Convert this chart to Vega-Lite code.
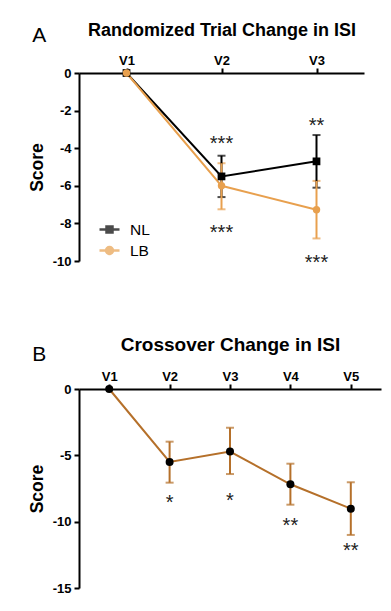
{
  "$schema": "https://vega.github.io/schema/vega-lite/v6.json",
  "background": "white",
  "padding": {"left": 28, "top": 21, "right": 5, "bottom": 5},
  "spacing": 61,
  "resolve": {"scale": {"color": "independent", "shape": "independent"}, "legend": {"color": "independent", "shape": "independent"}},
  "config": {
    "view": {"stroke": null},
    "font": "Liberation Sans",
    "axis": {"grid": false, "domainColor": "#000000", "domainWidth": 2, "tickColor": "#000000", "tickWidth": 2, "tickSize": 5, "labelFont": "Liberation Sans", "labelFontWeight": "bold", "labelFontSize": 13, "labelColor": "#000000", "titleFont": "Liberation Sans", "titleFontWeight": "bold", "titleFontSize": 17.5, "titleColor": "#000000"},
    "title": {"font": "Liberation Sans", "fontWeight": "normal", "fontSize": 21, "color": "#000000", "anchor": "start", "frame": "bounds", "dx": 4}
  },
  "datasets": {
    "a": [
      {"visit": "V1", "group": "NL", "score": 0, "lo": null, "hi": null},
      {"visit": "V2", "group": "NL", "score": -5.5, "lo": -6.6, "hi": -4.4},
      {"visit": "V3", "group": "NL", "score": -4.7, "lo": -6.1, "hi": -3.3},
      {"visit": "V1", "group": "LB", "score": 0, "lo": null, "hi": null},
      {"visit": "V2", "group": "LB", "score": -6.0, "lo": -7.25, "hi": -4.8},
      {"visit": "V3", "group": "LB", "score": -7.27, "lo": -8.8, "hi": -5.74}
    ],
    "starsA": [
      {"visit": "V2", "label": "***", "pos": -3.53},
      {"visit": "V2", "label": "***", "pos": -8.25},
      {"visit": "V3", "label": "**", "pos": -2.55},
      {"visit": "V3", "label": "***", "pos": -9.85}
    ],
    "b": [
      {"visit": "V1", "score": 0, "lo": null, "hi": null},
      {"visit": "V2", "score": -5.5, "lo": -7.06, "hi": -3.97},
      {"visit": "V3", "score": -4.72, "lo": -6.41, "hi": -2.92},
      {"visit": "V4", "score": -7.18, "lo": -8.72, "hi": -5.63},
      {"visit": "V5", "score": -9.02, "lo": -11.0, "hi": -7.03}
    ],
    "starsB": [
      {"visit": "V2", "label": "*", "pos": -8.19},
      {"visit": "V3", "label": "*", "pos": -8.06},
      {"visit": "V4", "label": "**", "pos": -9.97},
      {"visit": "V5", "label": "**", "pos": -11.8}
    ]
  },
  "vconcat": [
    {
      "width": 285,
      "height": 188,
      "title": {"text": "A", "offset": -25},
      "data": {"name": "a"},
      "encoding": {
        "x": {"field": "visit", "type": "ordinal", "scale": {"type": "point", "padding": 0.5}, "axis": {"orient": "top", "title": "Randomized Trial Change in ISI", "titleFontSize": 18, "labelAngle": 0, "titlePadding": 15, "labelPadding": 1}},
        "y": {"field": "score", "type": "quantitative", "title": "Score", "scale": {"domain": [-10, 0], "nice": false, "zero": false}, "axis": {"values": [0, -2, -4, -6, -8, -10], "labelExpr": "toString(datum.value)", "titlePadding": 6, "labelPadding": 3}}
      },
      "layer": [
        {
          "mark": {"type": "line", "strokeWidth": 2},
          "encoding": {"color": {"field": "group", "type": "nominal", "scale": {"domain": ["NL", "LB"], "range": ["#000000", "#E8A04E"]}}}
        },
        {
          "transform": [{"filter": "isValid(datum.lo)"}],
          "mark": {"type": "errorbar", "ticks": {"size": 8, "thickness": 2}, "thickness": 2},
          "encoding": {
            "y": {"field": "lo", "type": "quantitative", "title": "Score"},
            "y2": {"field": "hi"},
            "color": {"field": "group", "type": "nominal"}
          }
        },
        {
          "transform": [{"filter": "datum.group === 'NL'"}],
          "mark": {"type": "point", "filled": true, "size": 60, "opacity": 1, "shape": "square"},
          "encoding": {"color": {"field": "group", "type": "nominal"}}
        },
        {
          "transform": [{"filter": "datum.group === 'LB'"}],
          "mark": {"type": "point", "filled": true, "size": 55, "opacity": 1, "shape": "circle"},
          "encoding": {"color": {"field": "group", "type": "nominal"}}
        },
        {
          "mark": {"type": "point", "filled": false, "opacity": 0, "strokeWidth": 2},
          "encoding": {
            "color": {"field": "group", "type": "nominal", "legend": {"title": null, "orient": "none", "legendX": 19, "legendY": 145, "labelFontSize": 15.5, "labelFont": "Liberation Sans", "labelColor": "#000000", "symbolSize": 400, "symbolStrokeWidth": 2.5, "symbolOpacity": 1, "rowPadding": 1, "labelOffset": 9}},
            "shape": {"field": "group", "type": "nominal", "scale": {"domain": ["NL", "LB"], "range": ["M-1,0H1M-0.3,-0.3H0.3V0.3H-0.3ZM-0.2,-0.2H0.2V0.2H-0.2ZM-0.1,-0.1H0.1V0.1H-0.1Z", "M-1,0H1M0.35,0A0.35,0.35,0,1,1,-0.35,0A0.35,0.35,0,1,1,0.35,0ZM0.25,0A0.25,0.25,0,1,1,-0.25,0A0.25,0.25,0,1,1,0.25,0ZM0.15,0A0.15,0.15,0,1,1,-0.15,0A0.15,0.15,0,1,1,0.15,0Z"]}, "legend": {"title": null, "orient": "none", "legendX": 19, "legendY": 145, "labelFontSize": 15.5, "labelFont": "Liberation Sans", "labelColor": "#000000", "symbolSize": 400, "symbolStrokeWidth": 2.5, "symbolOpacity": 1, "rowPadding": 1, "labelOffset": 9}}
          }
        },
        {
          "data": {"name": "starsA"},
          "mark": {"type": "text", "fontSize": 20, "baseline": "middle", "dy": 5, "color": "#222222"},
          "encoding": {
            "text": {"field": "label"},
            "x": {"field": "visit", "type": "ordinal"},
            "y": {"field": "pos", "type": "quantitative", "title": "Score"}
          }
        }
      ]
    },
    {
      "width": 302,
      "height": 199,
      "title": {"text": "B", "offset": -30},
      "data": {"name": "b"},
      "encoding": {
        "x": {"field": "visit", "type": "ordinal", "scale": {"type": "point", "padding": 0.5}, "axis": {"orient": "top", "title": "Crossover Change in ISI", "titleFontSize": 19, "labelAngle": 0, "titlePadding": 16, "labelPadding": 1}},
        "y": {"field": "score", "type": "quantitative", "title": "Score", "scale": {"domain": [-15, 0], "nice": false, "zero": false}, "axis": {"values": [0, -5, -10, -15], "labelExpr": "toString(datum.value)", "titlePadding": 6, "labelPadding": 3}}
      },
      "layer": [
        {"mark": {"type": "line", "strokeWidth": 2, "color": "#B5702A"}},
        {
          "transform": [{"filter": "isValid(datum.lo)"}],
          "mark": {"type": "errorbar", "color": "#B5702A", "ticks": {"size": 8, "thickness": 2}, "thickness": 2},
          "encoding": {
            "y": {"field": "lo", "type": "quantitative", "title": "Score"},
            "y2": {"field": "hi"}
          }
        },
        {"mark": {"type": "point", "filled": true, "size": 64, "opacity": 1, "shape": "circle", "color": "#000000"}},
        {
          "data": {"name": "starsB"},
          "mark": {"type": "text", "fontSize": 20, "baseline": "middle", "dy": 5, "color": "#222222"},
          "encoding": {
            "text": {"field": "label"},
            "x": {"field": "visit", "type": "ordinal"},
            "y": {"field": "pos", "type": "quantitative", "title": "Score"}
          }
        }
      ]
    }
  ]
}
